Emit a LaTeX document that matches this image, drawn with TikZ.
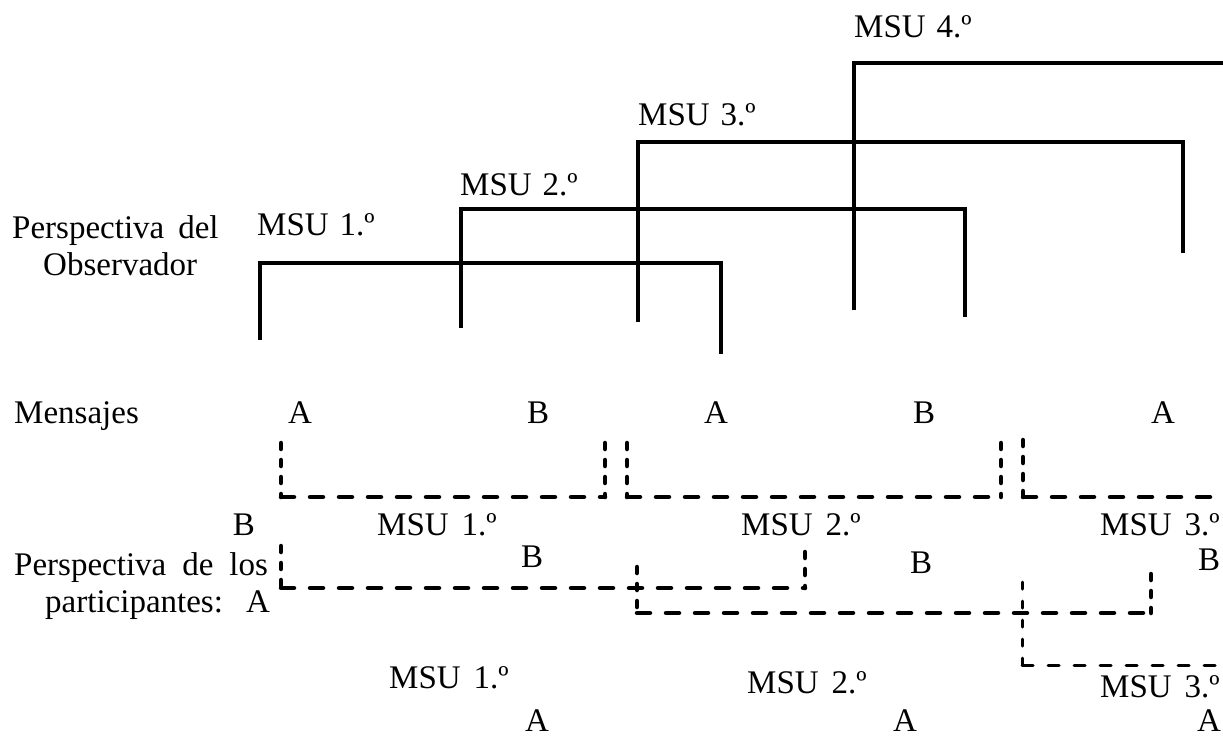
\documentclass[tikz,border=0pt]{standalone}
\usepackage{fontspec}
\setmainfont{Liberation Serif}
\begin{document}
\begin{tikzpicture}[x=1pt,y=-1pt,
  lbl/.style={inner sep=0pt, font=\fontsize{33}{39}\selectfont},
  solidb/.style={line width=3.2pt, line join=miter},
  dv/.style={line width=4.5pt, line cap=round, dash pattern=on 6pt off 11pt},
  dh/.style={line width=4.5pt, line cap=round, dash pattern=on 13pt off 16pt},
  dvt/.style={line width=3pt, line cap=round, dash pattern=on 7pt off 12pt},
  dht/.style={line width=3pt, line cap=round, dash pattern=on 11pt off 15pt}]
\useasboundingbox (0,0) rectangle (1223,739);
% ---- observer perspective labels
\node[lbl, anchor=base west] (obsA) at (12,238) {Perspectiva\hspace{14pt}del};
\node[lbl, anchor=base west] (obsB) at (43,275) {Observador};
\node[lbl, anchor=base west] (t1) at (257,235) {MSU\hspace{11pt}1.º};
\node[lbl, anchor=base west] (t2) at (460,195) {MSU\hspace{11pt}2.º};
\node[lbl, anchor=base west] (t3) at (638,125) {MSU\hspace{11pt}3.º};
\node[lbl, anchor=base west] (t4) at (854,37) {MSU\hspace{11pt}4.º};
% ---- solid brackets
\coordinate (m1a) at (260,340); \coordinate (m1b) at (260,263);
\coordinate (m1c) at (721,263); \coordinate (m1d) at (721,354);
\coordinate (m2a) at (461,328); \coordinate (m2b) at (461,209);
\coordinate (m2c) at (965,209); \coordinate (m2d) at (965,317);
\coordinate (m3a) at (638,322); \coordinate (m3b) at (638,142);
\coordinate (m3c) at (1183,142); \coordinate (m3d) at (1183,253);
\coordinate (m4a) at (854,310); \coordinate (m4b) at (854,63);
\coordinate (m4c) at (1223,63);
\draw[solidb] (m1a) -- (m1b) -- (m1c) -- (m1d);
\draw[solidb] (m2a) -- (m2b) -- (m2c) -- (m2d);
\draw[solidb] (m3a) -- (m3b) -- (m3c) -- (m3d);
\draw[solidb] (m4a) -- (m4b) -- (m4c);
% ---- messages row
\node[lbl, anchor=base west] (mens) at (14,423) {Mensajes};
\node[lbl, anchor=base] (ma1) at (300,423) {A};
\node[lbl, anchor=base] (mb1) at (538,423) {B};
\node[lbl, anchor=base] (ma2) at (716,423) {A};
\node[lbl, anchor=base] (mb2) at (924,423) {B};
\node[lbl, anchor=base] (ma3) at (1163,423) {A};
% ---- dashed row 1
\coordinate (d1a) at (281,443); \coordinate (d1b) at (281,497);
\coordinate (d1c) at (605,497); \coordinate (d1d) at (605,443);
\coordinate (d2a) at (627,443); \coordinate (d2b) at (627,497);
\coordinate (d2c) at (1001,497); \coordinate (d2d) at (1001,443);
\coordinate (d3a) at (1023,440); \coordinate (d3b) at (1023,497);
\coordinate (d3c) at (1223,497);
\draw[dv] (d1a) -- (d1b); \draw[dh] (d1b) -- (d1c); \draw[dv] (d1d) -- (d1c);
\draw[dv] (d2a) -- (d2b); \draw[dh] (d2b) -- (d2c); \draw[dv] (d2d) -- (d2c);
\draw[dv] (d3a) -- (d3b); \draw[dh] (d3b) -- (d3c);
% ---- labels row
\node[lbl, anchor=base] (rb) at (244,535) {B};
\node[lbl, anchor=base west] (r1) at (377,535) {MSU\hspace{13pt}1.º};
\node[lbl, anchor=base west] (r2) at (741,535) {MSU\hspace{13pt}2.º};
\node[lbl, anchor=base west] (r3) at (1100,535) {MSU\hspace{13pt}3.º};
% ---- participants perspective
\node[lbl, anchor=base west] (parA) at (14,575) {Perspectiva\hspace{16pt}de\hspace{16pt}los};
\node[lbl, anchor=base west] (parB) at (45,612) {participantes:};
\node[lbl, anchor=base] (pa) at (258,612) {A};
\node[lbl, anchor=base] (pb1) at (532,567) {B};
\node[lbl, anchor=base] (pb2) at (921,573) {B};
\node[lbl, anchor=base] (pb3) at (1209,570) {B};
% ---- dashed participant brackets
\coordinate (p1a) at (281,546); \coordinate (p1b) at (281,588);
\coordinate (p1c) at (805,588); \coordinate (p1d) at (805,552);
\coordinate (p2a) at (637,567); \coordinate (p2b) at (637,613);
\coordinate (p2c) at (1151,613); \coordinate (p2d) at (1151,574);
\coordinate (p3a) at (1022,582); \coordinate (p3b) at (1022,665);
\coordinate (p3c) at (1223,665);
\draw[dv] (p1a) -- (p1b); \draw[dh] (p1b) -- (p1c); \draw[dv] (p1d) -- (p1c);
\draw[dv] (p2a) -- (p2b); \draw[dh] (p2b) -- (p2c); \draw[dv] (p2d) -- (p2c);
\draw[dvt] (p3a) -- (p3b); \draw[dht] (p3b) -- (p3c);
% ---- bottom labels
\node[lbl, anchor=base west] (b1) at (389,688) {MSU\hspace{13pt}1.º};
\node[lbl, anchor=base west] (b2) at (747,693) {MSU\hspace{13pt}2.º};
\node[lbl, anchor=base west] (b3) at (1100,697) {MSU\hspace{13pt}3.º};
\node[lbl, anchor=base] (ba1) at (537,731) {A};
\node[lbl, anchor=base] (ba2) at (905,731) {A};
\node[lbl, anchor=base] (ba3) at (1209,731) {A};
\end{tikzpicture}
\end{document}
